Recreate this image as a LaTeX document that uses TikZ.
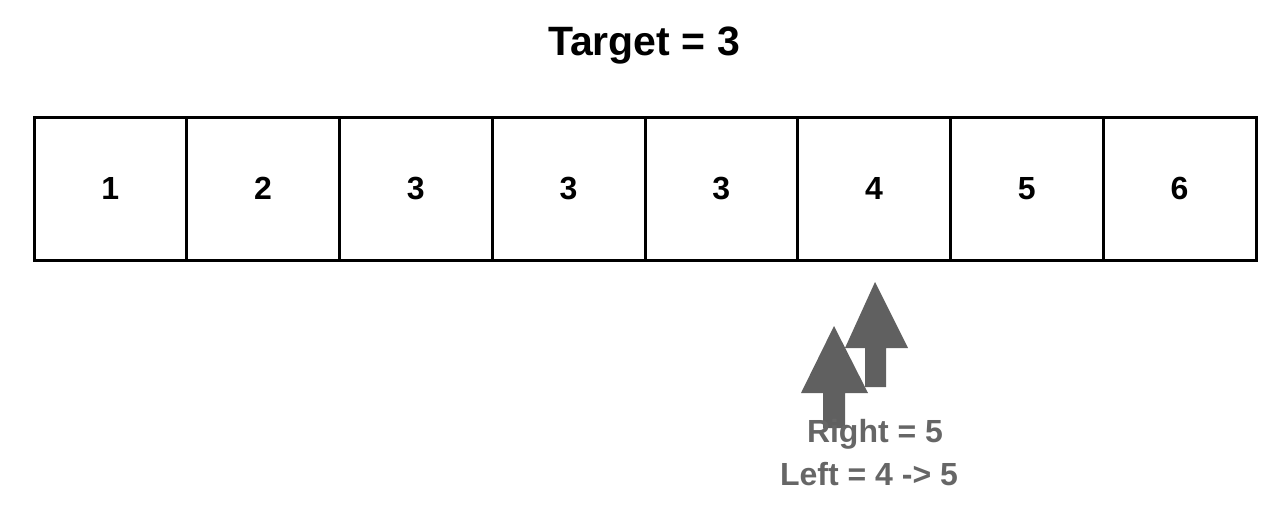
\documentclass[tikz,border=0pt]{standalone}
\usepackage{fontspec}
\setmainfont{Liberation Sans}
\definecolor{ptrgray}{HTML}{606060}
\definecolor{txtgray}{HTML}{666666}
\begin{document}
\begin{tikzpicture}[x=1pt,y=-1pt,
  cell/.style={draw=black,line width=3pt,minimum width=152.75pt,minimum height=143pt,inner sep=0pt,font=\fontsize{32}{32}\selectfont\bfseries},
  ptr/.style={fill=ptrgray,draw=none},
  lbl/.style={anchor=base,text=txtgray,inner sep=0pt,font=\fontsize{32}{32}\selectfont\bfseries}]
\useasboundingbox (0,0) rectangle (1278,506);
\node[anchor=base,inner sep=0pt,font=\fontsize{41}{41}\selectfont\bfseries] (title) at (644,55) {Target = 3};
\foreach \v [count=\i] in {1,2,3,3,3,4,5,6}{
  \node[cell] (c\i) at ({34+152.75*(\i-0.5)},188.5) {\v};
}
% right pointer
\path[ptr] (865,387) -- (865,348) -- (845,348) -- (875,282) -- (908,348) -- (886,348) -- (886,387) -- cycle;
% left pointer
\path[ptr] (823,428) -- (823,393) -- (801,393) -- (834,326) -- (868,393) -- (845,393) -- (845,428) -- cycle;
\node[lbl] (right) at (875,442) {Right = 5};
\node[lbl] (left) at (869,485) {Left = 4 -> 5};
\end{tikzpicture}
\end{document}
